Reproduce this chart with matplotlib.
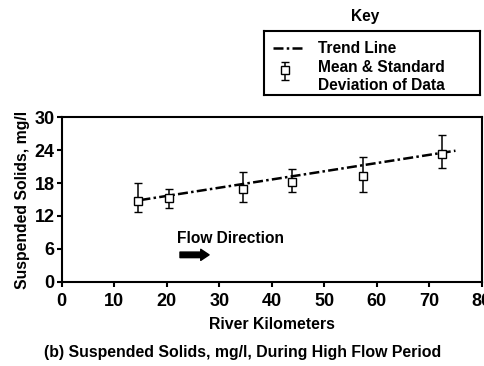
import matplotlib
matplotlib.use('Agg')
import matplotlib.pyplot as plt

plt.rcParams['font.family'] = ['Liberation Sans', 'DejaVu Sans']
plt.rcParams['font.weight'] = 'bold'

# data
river_km = [14.6, 20.5, 34.5, 43.9, 57.3, 72.5]
mean_ss = [14.8, 15.3, 16.9, 18.2, 19.3, 23.3]
err_low = [2.0, 1.9, 2.3, 1.8, 3.0, 2.5]
err_high = [3.2, 1.7, 3.2, 2.3, 3.5, 3.5]
trend_x = [15, 75]
trend_y = [14.9, 23.9]
x_ticks = [0, 10, 20, 30, 40, 50, 60, 70, 80]
y_ticks = [0, 6, 12, 18, 24, 30]

W, H = 485, 366
trend_style = dict(color='black', lw=1.8, dashes=(4, 1.3, 1, 1.3))
err_style = dict(fmt='s', mfc='white', mec='black', ecolor='black', ms=6,
                 mew=1.0, elinewidth=1.1, capsize=2.6, capthick=1.1)

fig = plt.figure(figsize=(W / 100, H / 100), dpi=100)
ax = fig.add_axes([61.7 / W, 1 - 281.7 / H, 420 / W, 164.4 / H])

ax.plot(trend_x, trend_y, **trend_style)
ax.errorbar(river_km, mean_ss, yerr=[err_low, err_high], zorder=3, **err_style)

ax.set_xlim(0, 80)
ax.set_ylim(0, 30)
ax.set_xticks(x_ticks)
ax.set_yticks(y_ticks)
ax.tick_params(labelsize=13, width=1.5, length=3.6, direction='out')
ax.tick_params(axis='x', pad=4.5)
ax.tick_params(axis='y', pad=1.5)
for lab in ax.get_xticklabels() + ax.get_yticklabels():
    lab.set_fontweight('bold')
for s in ax.spines.values():
    s.set_linewidth(1.5)

ax.set_xlabel('River Kilometers', fontsize=11.4, fontweight='bold', labelpad=5)
ax.set_ylabel('Suspended Solids, mg/l', fontsize=11.3, fontweight='bold', labelpad=3)

# flow direction annotation
ax.text(21.9, 7.9, 'Flow Direction', fontsize=11.2, fontweight='bold', va='center')
ax.annotate('', xy=(28.6, 4.9), xytext=(22, 4.9),
            arrowprops=dict(arrowstyle='simple,head_length=0.6,head_width=0.8,tail_width=0.4',
                            fc='black', ec='black', mutation_scale=10))

# key (drawn in its own small axes, pixel units)
fig.text(365 / W, 1 - 16.7 / H, 'Key', ha='center', va='center',
         fontsize=11.2, fontweight='bold')
kax = fig.add_axes([264 / W, 1 - 95 / H, 216 / W, 64.3 / H])
kax.set_xlim(0, 216)
kax.set_ylim(64.3, 0)
kax.set_xticks([])
kax.set_yticks([])
for s in kax.spines.values():
    s.set_linewidth(1.5)
kax.plot([9, 41], [17.6, 17.6], **trend_style)
kax.errorbar([21], [39.5], yerr=[[8.5], [9.5]], **err_style)
key_labels = ['Trend Line', 'Mean & Standard', 'Deviation of Data']
for i, lab in enumerate(key_labels):
    kax.text(54, 17.6 + 18.8 * i, lab, fontsize=11.2, fontweight='bold', va='center')

fig.text(0.5, 1 - 352 / H, '(b) Suspended Solids, mg/l, During High Flow Period',
         ha='center', va='center', fontsize=11.4, fontweight='bold')

fig.savefig('out.png', dpi=100)
